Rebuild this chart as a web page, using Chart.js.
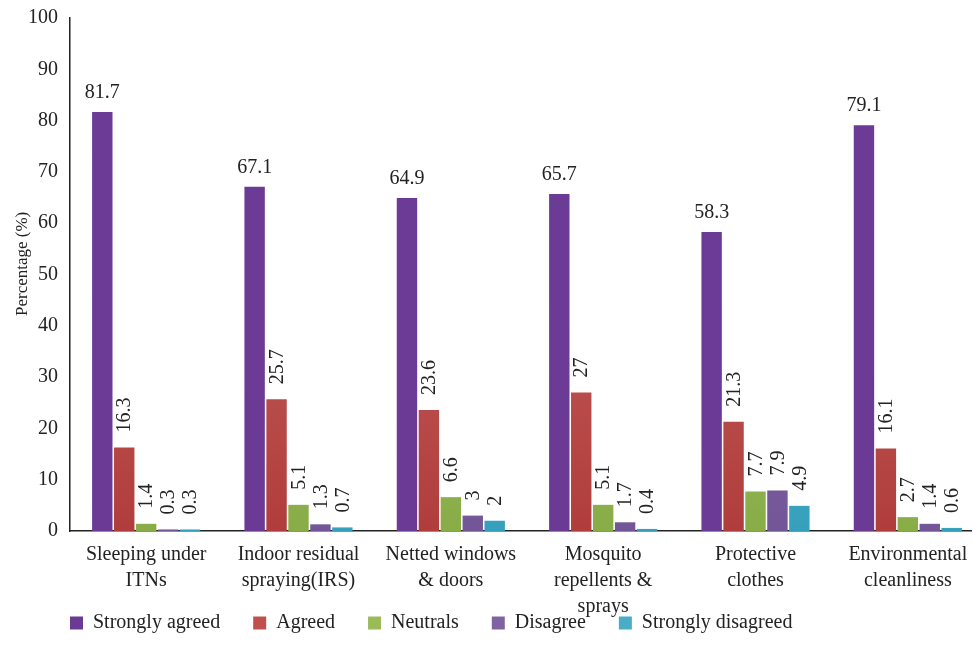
<!DOCTYPE html>
<html>
<head>
<meta charset="utf-8">
<script src="https://cdn.jsdelivr.net/npm/chart.js@4/dist/chart.umd.min.js"></script>
<style>
  html, body { margin: 0; padding: 0; background: #fff; }
  #wrap { width: 972px; height: 660px; }
</style>
</head>
<body>
<div id="wrap"><canvas id="chart"></canvas></div>
<script>
const categories = [
    ["Sleeping under", "ITNs"],
    ["Indoor residual", "spraying(IRS)"],
    ["Netted windows", "& doors"],
    ["Mosquito", "repellents &", "sprays"],
    ["Protective", "clothes"],
    ["Environmental", "cleanliness"]
];
const seriesNames = ["Strongly agreed", "Agreed", "Neutrals", "Disagree", "Strongly disagreed"];
const stronglyAgreed = [81.7, 67.1, 64.9, 65.7, 58.3, 79.1];
const agreed = [16.3, 25.7, 23.6, 27, 21.3, 16.1];
const neutrals = [1.4, 5.1, 6.6, 5.1, 7.7, 2.7];
const disagree = [0.3, 1.3, 3, 1.7, 7.9, 1.4];
const stronglyDisagreed = [0.3, 0.7, 2, 0.4, 4.9, 0.6];
const yTicks = [0, 10, 20, 30, 40, 50, 60, 70, 80, 90, 100];

const FONT = "'Liberation Serif', 'DejaVu Serif', serif";
// [top, bottom, legend swatch]
const colors = [
    ["#6b3b96", "#6a3a94", "#6a3a94"],
    ["#c86b69", "#b03d3b", "#c0504d"],
    ["#abc77d", "#88ad47", "#9bbb59"],
    ["#8f76b2", "#735698", "#8064a2"],
    ["#6cbad0", "#36a0bc", "#4bacc6"]
];

function grad(i) {
    return function (ctx) {
        const area = ctx.chart.chartArea;
        if (!area) return colors[i][2];
        const g = ctx.chart.ctx.createLinearGradient(0, area.top + 100, 0, area.bottom);
        g.addColorStop(0, colors[i][0]);
        g.addColorStop(1, colors[i][1]);
        return g;
    };
}

const allData = [stronglyAgreed, agreed, neutrals, disagree, stronglyDisagreed];
const datasets = allData.map((d, i) => ({
    label: seriesNames[i],
    data: d,
    backgroundColor: grad(i),
    borderWidth: 0,
    categoryPercentage: 0.72,
    barPercentage: 0.93
}));

// value labels: first series flat above bar, the rest rotated
const valueLabels = {
    id: 'valueLabels',
    afterDatasetsDraw(chart) {
        const ctx = chart.ctx;
        ctx.save();
        ctx.font = "20px " + FONT;
        ctx.fillStyle = "#222";
        chart.data.datasets.forEach((ds, i) => {
            const meta = chart.getDatasetMeta(i);
            meta.data.forEach((bar, j) => {
                const txt = String(ds.data[j]);
                if (i === 0) {
                    ctx.textAlign = "center";
                    ctx.textBaseline = "bottom";
                    ctx.fillText(txt, bar.x, bar.y - 9);
                } else {
                    ctx.save();
                    ctx.translate(bar.x, bar.y - 15);
                    ctx.rotate(-Math.PI / 2);
                    ctx.textAlign = "left";
                    ctx.textBaseline = "middle";
                    ctx.fillText(txt, 0, 1);
                    ctx.restore();
                }
            });
        });
        ctx.restore();
    }
};

// legend to the left like the original, plot area stretched to the original's
// top and right edges, and x labels allowed to run below the axis box
const layoutFix = {
    id: 'layoutFix',
    afterLayout(chart) {
        chart.legend.left = 37;
        const x = chart.scales.x;
        x.right = 984;
        x.width = x.right - x.left;
        x.configure();
        x.bottom = chart.height;
        const y = chart.scales.y;
        y.top = 18;
        y.height = y.bottom - y.top;
        y.configure();
        chart.chartArea.top = 18;
        chart.chartArea.height = chart.chartArea.bottom - 18;
    }
};

new Chart(document.getElementById("chart"), {
    type: 'bar',
    data: {
        labels: categories,
        datasets: datasets
    },
    options: {
        responsive: true,
        maintainAspectRatio: false,
        animation: false,
        layout: { padding: { top: 6, right: 0, left: 0, bottom: 17 } },
        plugins: {
            tooltip: { enabled: false },
            legend: {
                position: 'bottom',
                align: 'start',
                labels: {
                    font: { family: FONT, size: 20 },
                    color: "#222",
                    boxWidth: 13,
                    boxHeight: 13,
                    padding: 33,
                    generateLabels(chart) {
                        return chart.data.datasets.map((ds, i) => ({
                            text: ds.label,
                            fillStyle: colors[i][2],
                            strokeStyle: colors[i][2],
                            lineWidth: 0,
                            fontColor: "#222",
                            datasetIndex: i
                        }));
                    }
                }
            }
        },
        scales: {
            x: {
                grid: { display: false, drawTicks: false },
                border: { display: true, color: "#222", width: 1.5 },
                ticks: {
                    font: { family: FONT, size: 20, lineHeight: 1.3 },
                    color: "#222",
                    maxRotation: 0,
                    autoSkip: false,
                    padding: 11
                },
                afterFit(scale) { scale.height = 49; }
            },
            y: {
                min: 0,
                max: 100,
                afterBuildTicks(scale) {
                    scale.ticks = yTicks.map(v => ({ value: v }));
                },
                grid: { display: false, drawTicks: false },
                border: { display: true, color: "#222", width: 1.5 },
                ticks: {
                    font: { family: FONT, size: 20 },
                    color: "#222",
                    padding: 12
                },
                title: {
                    display: true,
                    text: "     Percentage (%)",
                    font: { family: FONT, size: 17 },
                    color: "#222",
                    padding: { top: 12, bottom: 0 }
                },
                afterFit(scale) { scale.width = 70; }
            }
        }
    },
    plugins: [valueLabels, layoutFix]
});
</script>
</body>
</html>
